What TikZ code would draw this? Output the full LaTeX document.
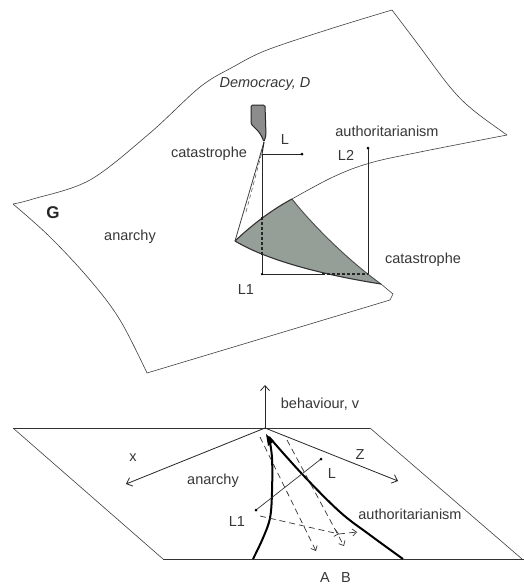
\documentclass[tikz,border=0pt]{standalone}
\usepackage{fontspec}
\setmainfont{Liberation Sans}
\usetikzlibrary{arrows.meta}
\definecolor{cuspgrey}{RGB}{150,158,152}
\definecolor{tipgrey}{RGB}{140,140,140}
\definecolor{txt}{RGB}{55,55,55}
\begin{document}
\begin{tikzpicture}[x=1pt,y=-1pt,
  lbl/.style={inner sep=0pt, text=txt, font=\fontsize{14.5}{17}\selectfont},
  surf/.style={draw=black!75, line width=0.6pt},
  frame/.style={draw=black!80, line width=0.8pt},
  guide/.style={draw=black!85, line width=0.8pt},
  guidedash/.style={draw=black!85, line width=1.1pt, dash pattern=on 3pt off 2pt},
  axis/.style={draw=black!85, line width=0.8pt, -{Straight Barb[length=5pt,width=9pt]}},
  branch/.style={draw=black, line width=2pt},
  flow/.style={draw=black!80, line width=0.7pt, dash pattern=on 6pt off 4pt, -{Straight Barb[length=4pt,width=7pt]}},
  dotnode/.style={circle, fill=black, inner sep=0pt, minimum size=3pt}
]
\useasboundingbox (0,0) rectangle (524,587);
\fill[white] (0,0) rectangle (524,587);

% ---------- upper surface ----------
\coordinate (UL) at (13,204);
\coordinate (UT) at (392,10);
\coordinate (UR) at (507,135);
\coordinate (FP) at (292,199);
\coordinate (FL) at (235,241);
\coordinate (FR) at (381,284);
\coordinate (HK1) at (393,294);
\coordinate (HK2) at (390,300);
\coordinate (BL) at (147,373);

\draw[surf] plot[smooth, tension=0.55] coordinates {(13,204) (33,199) (90,180) (150,133) (200,87) (233,67) (267,50) (333,28) (392,10)};
\draw[surf] plot[smooth, tension=0.6] coordinates {(392,10) (417,43) (450,87) (473,110) (507,135)};
\draw[surf] plot[smooth, tension=0.6] coordinates {(507,135) (420,152) (370,163) (333,177) (292,199)};
\draw[surf] (FR) -- (HK1) -- (HK2);
\draw[surf] (HK2) -- (BL);
\draw[surf] plot[smooth, tension=0.6] coordinates {(147,373) (120,320) (90,280) (50,237) (13,204)};

% cusp region
\fill[cuspgrey] (FL) .. controls (255,222) and (275,208) .. (FP)
  .. controls (310,222) and (345,258) .. (FR)
  .. controls (330,276) and (270,262) .. (FL) -- cycle;
\draw[black!80, line width=1.1pt] (FL) .. controls (255,222) and (275,208) .. (FP);
\draw[black!70, line width=0.9pt] (FP) .. controls (310,222) and (345,258) .. (FR);
\draw[black!80, line width=1.1pt] (FR) .. controls (330,276) and (270,262) .. (FL);

% fold edge up to the catastrophe
\coordinate (CT) at (264,142);
\coordinate (LC) at (262,154);
\draw[surf, line width=0.8pt] (FL) -- (CT);
\draw[black!60, line width=0.6pt, dash pattern=on 4pt off 3pt] (246,212) -- (262,152);

% small grey shape
\filldraw[fill=tipgrey, draw=black!85, line width=1pt, rounded corners=1.5pt]
  (251,105) -- (265,105) -- (266,135) -- (CT) -- (262,137) -- (259,132) -- (251,124) -- cycle;
\draw[guide, line width=1pt] (CT) -- (LC);

% control path L -> L1 -> L2
\coordinate (Ld) at (302,154);
\coordinate (V1) at (262,217);
\coordinate (V2) at (262,255);
\coordinate (L1c) at (262,274);
\coordinate (H1) at (322,274);
\coordinate (L2c) at (368,274);
\coordinate (L2d) at (368,148);
\draw[guide] (LC) -- (Ld);
\draw[guide] (LC) -- (V1);
\draw[guidedash] (V1) -- (V2);
\draw[guide] (V2) -- (L1c);
\draw[guide] (L1c) -- (H1);
\draw[guidedash] (H1) -- (L2c);
\draw[guide] (L2c) -- (L2d);
\node[dotnode] (dL) at (Ld) {};
\node[dotnode] (dL2) at (L2d) {};
\node[dotnode, minimum size=2.5pt] (dL1) at (L1c) {};

% upper labels
\node[lbl, font=\fontsize{14.5}{17}\selectfont\itshape] (tDem) at (265,84) {Democracy, D};
\node[lbl] (tCat1) at (209,154) {catastrophe};
\node[lbl] (tL) at (285,140) {L};
\node[lbl] (tAuth1) at (387,131) {authoritarianism};
\node[lbl] (tL2) at (346,155) {L2};
\node[lbl, text=black!85, font=\fontsize{17}{20}\selectfont\bfseries] (tG) at (53,213) {G};
\node[lbl] (tAn1) at (130,237) {anarchy};
\node[lbl] (tCat2) at (423,260) {catastrophe};
\node[lbl] (tL1) at (246,290) {L1};

% ---------- lower diagram ----------
\coordinate (P1) at (13,428);
\coordinate (P2) at (370,428);
\coordinate (P3) at (522,559);
\coordinate (P4) at (163,559);
\coordinate (P5) at (524,559);
\coordinate (O) at (265,428);
\coordinate (Vv) at (265,385);
\coordinate (Xx) at (126,484);
\coordinate (Zz) at (398,481);

\draw[frame, line width=1pt] (P1) -- (P2);
\draw[surf] (P2) -- (P3);
\draw[surf] (P1) -- (P4);
\draw[frame, line width=1pt] (P4) -- (P5);

\draw[axis] (O) -- (Vv);
\draw[axis] (O) -- (Xx);
\draw[axis] (O) -- (Zz);

% cusp branches
\coordinate (AP) at (269,437);
\draw[branch] plot[smooth, tension=0.6] coordinates {(269,437) (272,458) (272,492) (270,518) (263,538) (253,559)};
\draw[branch] plot[smooth, tension=0.6] coordinates {(269,437) (303,475) (340,512) (370,535) (403,559)};
\fill[black] (266,434) -- (274,441) -- (268,446) -- cycle;

% control path
\coordinate (LL1) at (256,510);
\coordinate (LL) at (321,459);
\draw[black!80, line width=0.7pt] (LL1) -- (LL);
\node[dotnode] (dLL1) at (LL1) {};
\node[dotnode] (dLL) at (LL) {};

% dashed flows
\coordinate (A0) at (260,437);
\coordinate (A1) at (316,551);
\coordinate (B0) at (287,440);
\coordinate (B1) at (344,546);
\coordinate (C0) at (260,516);
\coordinate (C1) at (339,534);
\coordinate (C2) at (357,532);
\draw[flow] (A0) -- (A1);
\draw[flow] (B0) -- (B1);
\draw[flow] (C0) -- (C1);
\draw[flow] (C1) -- (C2);

% lower labels
\node[lbl] (tBeh) at (320,404) {behaviour, v};
\node[lbl] (tX) at (133,458) {x};
\node[lbl] (tZ) at (360,455) {Z};
\node[lbl] (tAn2) at (213,481) {anarchy};
\node[lbl] (tLL) at (332,474) {L};
\node[lbl] (tLL1) at (237,522) {L1};
\node[lbl] (tAuth2) at (410,514) {authoritarianism};
\node[lbl] (tA) at (325,578) {A};
\node[lbl] (tB) at (346,578) {B};
\end{tikzpicture}
\end{document}
